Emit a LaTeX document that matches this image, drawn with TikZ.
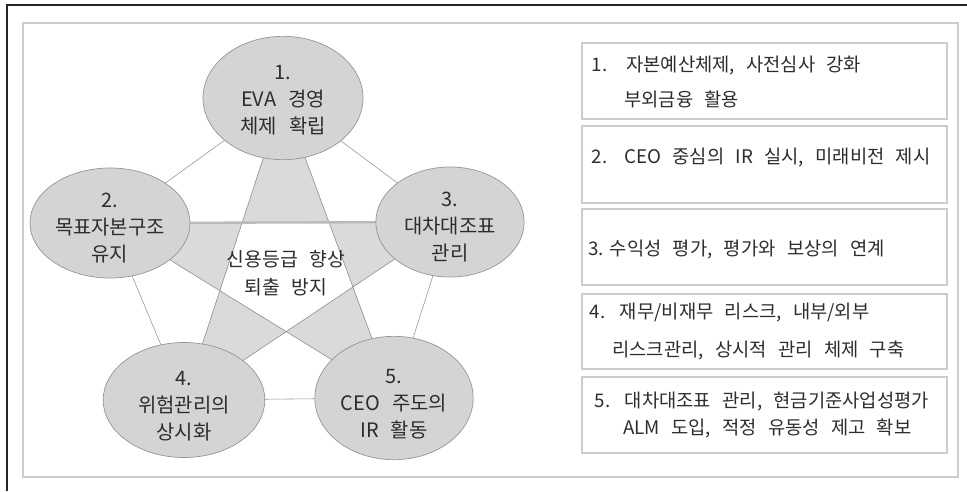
\documentclass[tikz,border=0pt]{standalone}
\usepackage{fontspec}
\setmainfont{Noto Sans CJK KR}[WordSpace=2.7]
\usetikzlibrary{shapes.geometric}

\definecolor{ellfill}{RGB}{212,212,212}
\definecolor{ellline}{RGB}{150,150,150}
\definecolor{starfill}{RGB}{218,218,218}
\definecolor{starline}{RGB}{140,140,140}
\definecolor{boxline}{RGB}{205,205,205}
\definecolor{txt}{RGB}{45,45,45}

\tikzset{
    goal/.style={ellipse, draw=ellline, fill=ellfill, line width=0.6pt},
    goaltext/.style={align=center, text=txt, inner sep=0pt,
        font=\fontsize{17}{23}\selectfont},
    plan/.style={draw=boxline, line width=1pt, minimum width=10.95cm},
    plantext/.style={anchor=west, align=left, text=txt, inner sep=0pt,
        font=\fontsize{16}{22}\selectfont},
    edge/.style={draw=starline, line width=0.5pt}
}

\begin{document}
\begin{tikzpicture}[x=0.03cm, y=-0.03cm]
    \useasboundingbox (0,0) rectangle (967,491);

    % Outer frame and inner panel
    \draw[black!85, line width=1.1pt] (7,491) -- (7,5) -- (967,5);
    \draw[boxline, line width=1.6pt] (23,23) rectangle (958,477);

    % Centres of the five goals
    \coordinate (c1) at (283,98);
    \coordinate (c2) at (110,223);
    \coordinate (c3) at (450,222);
    \coordinate (c4) at (184,400);
    \coordinate (c5) at (394,398);

    % Star, filled on its points only
    \fill[starfill, even odd rule] (c1) -- (c4) -- (c3) -- (c2) -- (c5) -- cycle;
    \draw[edge] (c1) -- (c4);
    \draw[edge] (c1) -- (c5);
    \draw[edge] (c2) -- (c5);
    \draw[edge] (c3) -- (c4);
    \draw[starline!60, line width=2pt] (c2) -- (c3);

    % Outer pentagon
    \foreach \a/\b in {c1/c2, c1/c3, c2/c4, c3/c5, c4/c5}
        \draw[edge, starline!90] (\a) -- (\b);

    % Goal ellipses
    \node[goal, minimum width=4.8cm, minimum height=3.7cm] (e1) at (c1) {};
    \node[goal, minimum width=4.8cm, minimum height=3.3cm] (e2) at (c2) {};
    \node[goal, minimum width=4.45cm, minimum height=3.3cm] (e3) at (c3) {};
    \node[goal, minimum width=4.85cm, minimum height=3.45cm] (e4) at (c4) {};
    \node[goal, minimum width=4.75cm, minimum height=3.7cm] (e5) at (c5) {};

    \node[goaltext] (t1) at ([yshift=-2pt]e1.center) {1.\\EVA 경영\\체제 확립};
    \node[goaltext] (t2) at ([yshift=-4pt]e2.center) {2.\\목표자본구조\\유지};
    \node[goaltext] (t3) at ([yshift=-4pt]e3.center) {3.\\대차대조표\\관리};
    \node[goaltext] (t4) at ([yshift=-5pt]e4.center) {4.\\위험관리의\\상시화};
    \node[goaltext] (t5) at ([yshift=-5pt]e5.center) {5.\\CEO 주도의\\IR 활동};

    \node[goaltext, font=\fontsize{16.5}{24}\selectfont] (core) at (286,273)
        {신용등급 향상\\퇴출 방지};

    % Action boxes
    \node[plan, minimum height=2.28cm] (b1) at (764.5,81) {};
    \node[plan, minimum height=2.31cm] (b2) at (764.5,164.5) {};
    \node[plan, minimum height=2.28cm] (b3) at (764.5,247) {};
    \node[plan, minimum height=2.25cm] (b4) at (764.5,331.5) {};
    \node[plan, minimum height=2.28cm] (b5) at (764.5,415) {};

    \node[plantext] (p1) at ([xshift=0.3cm, yshift=-1pt]b1.west)
        {\makebox[1.85em][l]{1.}자본예산체제, 사전심사 강화\\[8pt]\hspace*{1.75em}부외금융 활용};
    \node[plantext] (p2) at ([xshift=0.3cm, yshift=6pt]b2.west)
        {\makebox[1.75em][l]{2.}CEO 중심의 IR 실시, 미래비전 제시};
    \node[plantext] (p3) at ([xshift=0.2cm, yshift=-2pt]b3.west)
        {\makebox[1.15em][l]{3.}수익성 평가, 평가와 보상의 연계};
    \node[plantext] (p4) at ([xshift=0.25cm]b4.west)
        {\makebox[1.6em][l]{4.}재무/비재무 리스크, 내부/외부\\[11pt]\hspace*{1.2em}리스크관리, 상시적 관리 체제 구축};
    \node[plantext] (p5) at ([xshift=0.4cm]b5.west)
        {\makebox[1.6em][l]{5.}대차대조표 관리, 현금기준사업성평가\\[1pt]\hspace*{1.5em}ALM 도입, 적정 유동성 제고 확보};
\end{tikzpicture}
\end{document}
